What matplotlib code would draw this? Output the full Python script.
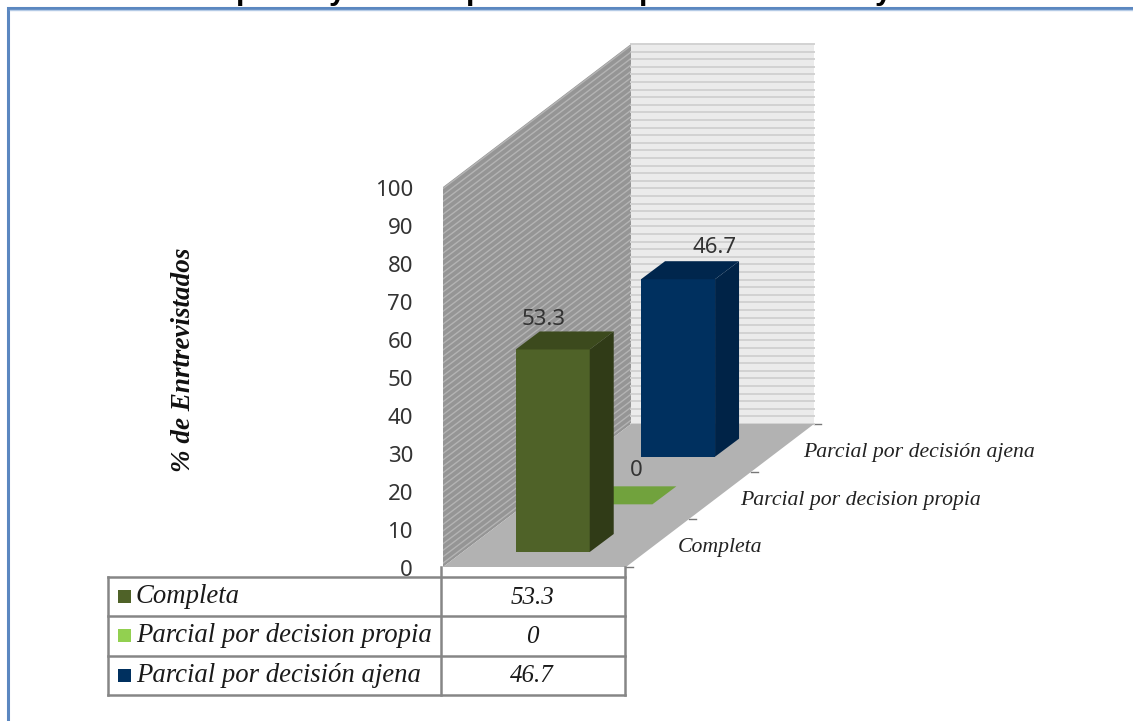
import numpy as np
import matplotlib
matplotlib.use('Agg')
import matplotlib.pyplot as plt
from matplotlib.patches import Polygon, Rectangle

categories = ['Completa', 'Parcial por decision propia', 'Parcial por decisión ajena']
values = [53.3, 0, 46.7]
value_labels = ['53.3', '0', '46.7']
yticks = [0, 10, 20, 30, 40, 50, 60, 70, 80, 90, 100]
ylabel = '% de Enrtrevistados'

front_colors = ['#4f6228', '#92d050', '#00305f']
top_colors = ['#3c4a1d', '#71a23d', '#00264d']
side_colors = ['#303b17', '#5c8a2e', '#002347']
swatch_colors = ['#4f6228', '#92d050', '#00305f']

# chart geometry, in pixels of the figure
X0, Y0 = 443, 567          # origin of the value axis
FLOOR_W = 183              # width of the floor
DEPTH_X, DEPTH_Y = 188, 143
PX_PER_UNIT = 3.8
BAR_X = 53                 # gap from left wall to a bar
BAR_W = 74
BAR_DX, BAR_DY = 24, 18    # depth of a bar
BAR_GAP = 15               # gap from category start to a bar
label_offsets = [(-21, -21), (9, -25), (25, -23)]

fig = plt.figure(figsize=(11.33, 7.21), dpi=100)
ax = fig.add_axes([0, 0, 1, 1])
ax.set_xlim(0, 1133)
ax.set_ylim(721, 0)
ax.axis('off')


def proj(x, depth, v):
    # x along the width, depth in px of floor height, v in chart units
    return (X0 + x + depth * DEPTH_X / DEPTH_Y, Y0 - depth - v * PX_PER_UNIT)


def poly(pts, color, z=2, **kw):
    p = Polygon(pts, closed=True, facecolor=color, edgecolor=kw.pop('ec', 'none'), zorder=z, **kw)
    ax.add_patch(p)
    return p


# title, only the descenders are still on the page
for x, ch in zip([236, 329, 466, 639, 875], 'pyppy'):
    ax.text(x, -1.5, ch, fontsize=22, fontweight='bold', family='Liberation Sans', va='baseline', color='black')

# frame
ax.plot([8, 8, 1133], [721, 8, 8], color='#5b87c0', lw=2.2, zorder=1, solid_joinstyle='miter')
ax.plot([10, 1133], [10, 10], color='#b5cbe6', lw=1, zorder=1)

# walls and floor
left_wall = poly([proj(0, 0, 0), proj(0, DEPTH_Y, 0), proj(0, DEPTH_Y, 100), proj(0, 0, 100)], '#959595')
back_wall = poly([proj(0, DEPTH_Y, 0), proj(FLOOR_W, DEPTH_Y, 0), proj(FLOOR_W, DEPTH_Y, 100), proj(0, DEPTH_Y, 100)], '#ebebeb')
poly([proj(0, 0, 0), proj(FLOOR_W, 0, 0), proj(FLOOR_W, DEPTH_Y, 0), proj(0, DEPTH_Y, 0)], '#b2b2b2', z=2.5)

for v in np.arange(0, 100.01, 2):
    xs, ys = zip(proj(0, DEPTH_Y, v), proj(FLOOR_W, DEPTH_Y, v))
    ax.plot(xs, ys, color='#d2d2d2', lw=1.4, zorder=2.1)
for v in np.arange(-50, 100.01, 1.7):
    xs, ys = zip(proj(0, 0, v), proj(0, DEPTH_Y, v))
    line, = ax.plot(xs, ys, color='#b4b4b4', lw=1.0, zorder=2.1)
    line.set_clip_path(left_wall)

# bars, back to front
step = DEPTH_Y / len(values)
for i in range(len(values) - 1, -1, -1):
    d = i * step + BAR_GAP
    v = values[i]
    x = BAR_X
    w = BAR_W
    if v > 0:
        poly([proj(x, d, 0), proj(x + w, d, 0), proj(x + w, d, v), proj(x, d, v)], front_colors[i], z=3 + (2 - i))
        fx, fy = proj(x + w, d, 0)
        _, ty = proj(x + w, d, v)
        poly([(fx, fy), (fx + BAR_DX, fy - BAR_DY), (fx + BAR_DX, ty - BAR_DY), (fx, ty)], side_colors[i], z=3 + (2 - i))
    lx, ly = proj(x, d, v)
    rx, _ = proj(x + w, d, v)
    poly([(lx, ly), (rx, ly), (rx + BAR_DX, ly - BAR_DY), (lx + BAR_DX, ly - BAR_DY)], top_colors[i], z=3 + (2 - i))
    ax.text((lx + rx) / 2 + BAR_DX / 2 + label_offsets[i][0], ly - BAR_DY / 2 + label_offsets[i][1], value_labels[i],
            fontsize=16, family='Noto Sans', color='#333333', ha='center', va='center', zorder=8)

# value axis
for t in yticks:
    tx, ty = proj(0, 0, t)
    ax.text(tx - 30, ty + 3, str(t), fontsize=16, family='Noto Sans', color='#333333', ha='right', va='center', zorder=1)
ax.text(183, 360, ylabel, rotation=90, fontsize=19.5, fontweight='bold', style='italic',
        family='Liberation Serif', ha='center', va='center', color='#111111')

# depth axis, ticks and names
for k in range(len(categories) + 1):
    tx, ty = proj(FLOOR_W, k * step, 0)
    ax.plot([tx, tx + 7], [ty, ty], color='#777777', lw=1, zorder=2)
for k, name in enumerate(categories):
    tx, ty = proj(FLOOR_W, (k + 0.5) * step, 0)
    ax.text(tx + 20, ty + 4.5, name, fontsize=15.7, style='italic', family='Liberation Serif',
            color='#222222', ha='left', va='center')

# data table
row_h = 39.3
tx0, tx1, tx2, ty0 = 108, 441, 625, 577
ax.add_patch(Rectangle((tx0, ty0), tx2 - tx0, row_h * 3, facecolor='white', edgecolor='none', zorder=4))
for k in range(4):
    ax.plot([tx0, tx2], [ty0 + k * row_h] * 2, color='#868686', lw=1.8, zorder=5)
for x_line, y_top in zip([tx0, tx1, tx2], [ty0, Y0, Y0]):
    ax.plot([x_line, x_line], [y_top, ty0 + 3 * row_h], color='#868686', lw=1.8, zorder=5)
for k, name in enumerate(categories):
    yc = ty0 + (k + 0.5) * row_h
    ax.add_patch(Rectangle((118, yc - 6.5), 13, 13, facecolor=swatch_colors[k], edgecolor='none', zorder=6))
    ax.text(136, yc, name, fontsize=19.3, style='italic', family='Liberation Serif', color='#1a1a1a',
            ha='left', va='center', zorder=6)
    ax.text((tx1 + tx2) / 2 - 1, yc + 1, value_labels[k], fontsize=18, style='italic', family='Liberation Serif',
            color='#1a1a1a', ha='center', va='center', zorder=6)

fig.savefig('out.png', dpi=100, facecolor='white')
